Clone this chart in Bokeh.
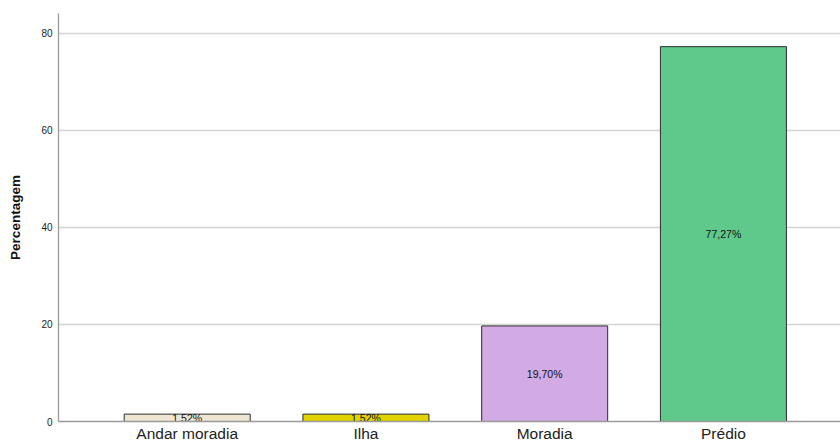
from bokeh.plotting import figure
from bokeh.models import Range1d, FixedTicker, ColumnDataSource
from bokeh.core.properties import value
from bokeh.embed import file_html
from bokeh.resources import INLINE

categories = ["Andar moradia", "Ilha", "Moradia", "Prédio"]
percentages = [1.52, 1.52, 19.70, 77.27]
bar_labels = ["1,52%", "1,52%", "19,70%", "77,27%"]
colors = ["#ece6d3", "#e1d300", "#d2aae4", "#5ec98b"]
y_ticks = [0, 20, 40, 60, 80]

xs = list(range(len(categories)))
src = ColumnDataSource(dict(
    x=xs, top=percentages, label=bar_labels, color=colors,
    mid=[v / 2 for v in percentages],
))

p = figure(width=840, height=444, output_backend="svg", toolbar_location=None,
           x_range=Range1d(-0.72, 3.655), y_range=Range1d(0, 84.1),
           min_border_left=58, min_border_right=0, min_border_top=13, min_border_bottom=23)

p.vbar(x="x", top="top", bottom=0, width=0.705, source=src, fill_color="color",
       line_color="#2b2b2b", line_width=1)
p.text(x="x", y="mid", text="label", source=src, text_align="center", text_baseline="middle",
       text_font=value("Liberation Sans"), text_font_size="10.5px", text_color="#111111")

p.outline_line_color = None
p.background_fill_color = "white"
p.border_fill_color = "white"

p.xgrid.visible = False
p.ygrid.grid_line_color = "#d4d4d4"
p.ygrid.grid_line_width = 1.3
p.ygrid.ticker = FixedTicker(ticks=y_ticks)

p.xaxis.ticker = FixedTicker(ticks=xs)
p.xaxis.major_label_overrides = {i: c for i, c in enumerate(categories)}
p.xaxis.major_label_text_font = "Liberation Sans"
p.xaxis.major_label_text_font_size = "15.5px"
p.xaxis.major_label_text_color = "#222222"
p.xaxis.major_label_standoff = 3
p.xaxis.major_tick_out = 0
p.xaxis.major_tick_in = 0
p.xaxis.minor_tick_line_color = None
p.xaxis.axis_line_color = "#9a9a9a"
p.xaxis.axis_line_width = 1.3

p.yaxis.ticker = FixedTicker(ticks=y_ticks)
p.yaxis.axis_label = "Percentagem"
p.yaxis.axis_label_text_font = "Liberation Sans"
p.yaxis.axis_label_text_font_style = "bold"
p.yaxis.axis_label_text_font_size = "13.5px"
p.yaxis.axis_label_text_color = "#111111"
p.yaxis.axis_label_standoff = 15
p.yaxis.major_label_text_font = "Liberation Sans"
p.yaxis.major_label_text_font_size = "10px"
p.yaxis.major_label_text_color = "#222222"
p.yaxis.major_label_standoff = 6
p.yaxis.major_tick_out = 0
p.yaxis.major_tick_in = 0
p.yaxis.minor_tick_line_color = None
p.yaxis.axis_line_color = "#9a9a9a"
p.yaxis.axis_line_width = 1.3

open("out.html", "w").write(file_html(p, INLINE))
